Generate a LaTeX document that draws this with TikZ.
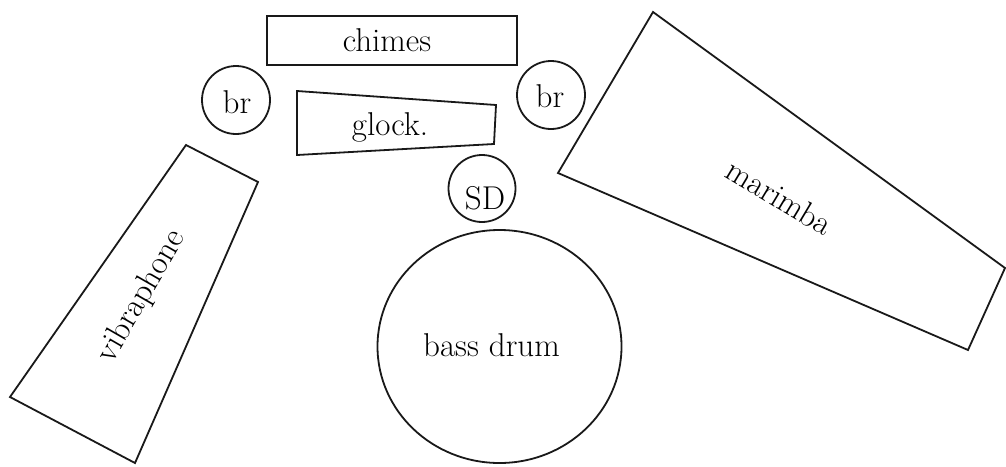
\documentclass[tikz,border=0pt]{standalone}
\usepackage{fontspec}
\usetikzlibrary{shapes.geometric}
\begin{document}
\begin{tikzpicture}[x=1pt,y=-1pt,
  outline/.style={draw=black!90,line width=1.8pt},
  lbl/.style={font=\fontsize{33}{40}\selectfont,inner sep=0pt,text=black},
  drum/.style={outline,circle,minimum size=68pt,inner sep=0pt}]
\useasboundingbox (0,0) rectangle (1006,466);
% chimes
\node[outline,rectangle,minimum width=250pt,minimum height=49pt,inner sep=0pt] (chimes) at (392,40.5) {};
\node[lbl,anchor=base] (chimesT) at (387,51.7) {chimes};
% bells
\node[drum] (brL) at (236,100) {};
\node[lbl,anchor=base] (brLT) at (237,113) {br};
\node[drum] (brR) at (551,95) {};
\node[lbl,anchor=base] (brRT) at (550,107) {br};
% glock
\draw[outline] (297,91) -- (496,105) -- (494,144) -- (297,155) -- cycle;
\node[lbl,anchor=base] (glock) at (390,135) {glock.};
% snare
\node[drum,minimum size=67pt] (sd) at (482,188.5) {};
\node[lbl,anchor=base] (sdT) at (485,209.3) {SD};
% bass drum
\node[outline,ellipse,minimum width=244pt,minimum height=233pt,inner sep=0pt] (bd) at (499.5,346.5) {};
\node[lbl,anchor=base] (bdT) at (491.5,356.7) {bass drum};
% vibraphone
\draw[outline] (186,145) -- (258,182) -- (135,463) -- (10,397) -- cycle;
\node[lbl,rotate=60] (vib) at (141.7,296.7) {vibraphone};
% marimba
\draw[outline] (653,12) -- (1005,268) -- (968,350) -- (558,173) -- cycle;
\node[lbl,rotate=-31] (mar) at (780,196.7) {marimba};
\end{tikzpicture}
\end{document}
